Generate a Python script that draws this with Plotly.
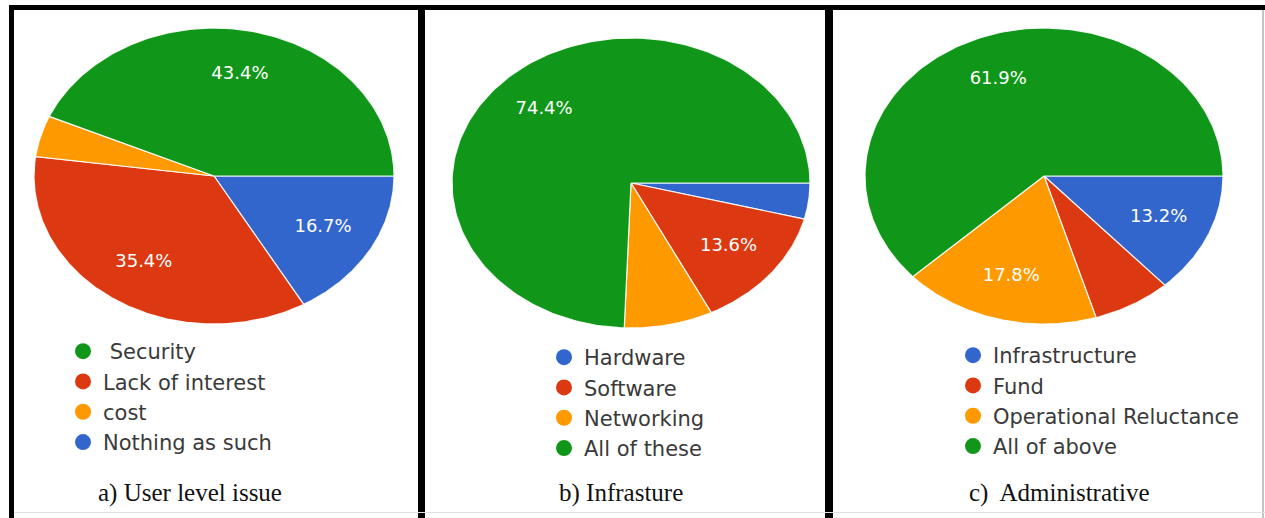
import numpy as np
import plotly.graph_objects as go

W, H = 1265, 518

# ---- data -------------------------------------------------------------
user_labels = [" Security", "Lack of interest", "cost", "Nothing as such"]
user_values = [43.4, 35.4, 4.5, 16.7]
user_colors = ["#109618", "#dc3912", "#ff9900", "#3366cc"]

infra_labels = ["Hardware", "Software", "Networking", "All of these"]
infra_values = [4.0, 13.6, 8.0, 74.4]
infra_colors = ["#3366cc", "#dc3912", "#ff9900", "#109618"]

admin_labels = ["Infrastructure", "Fund", "Operational Reluctance", "All of above"]
admin_values = [13.2, 7.1, 17.8, 61.9]
admin_colors = ["#3366cc", "#dc3912", "#ff9900", "#109618"]

captions = ["a) User level issue", "b) Infrasture", "c)  Administrative"]


def px_x(v):
    return v / W


def px_y(v):
    return 1 - v / H


# panel layout: ellipse box (pixels), slice sequence clockwise from
# 3 o'clock, legend anchor and caption position
panels = [
    dict(labels=user_labels, values=user_values, colors=user_colors,
         order=[3, 1, 2, 0],
         cx=214, cy=176, rx=180, ry=148,
         legend_x=63, legend_y=331, caption_x=190),
    dict(labels=infra_labels, values=infra_values, colors=infra_colors,
         order=[0, 1, 2, 3],
         cx=631, cy=183, rx=179, ry=145,
         legend_x=544, legend_y=337, caption_x=621),
    dict(labels=admin_labels, values=admin_values, colors=admin_colors,
         order=[0, 1, 2, 3],
         cx=1044, cy=176, rx=179, ry=148,
         legend_x=953, legend_y=335, caption_x=1059),
]

fig = go.Figure()
layout_axes = {}
legend_names = ["legend", "legend2", "legend3"]

for i, p in enumerate(panels):
    n = i + 1
    xa = "x" if n == 1 else f"x{n}"
    ya = "y" if n == 1 else f"y{n}"
    total = sum(p["values"])
    start = 0.0
    lab_x, lab_y, lab_t = [], [], []
    for k in p["order"]:
        val, col = p["values"][k], p["colors"][k]
        sweep = -360.0 * val / total
        ang = np.radians(np.linspace(start, start + sweep, 180))
        xs = np.concatenate([[0], np.cos(ang), [0]])
        ys = np.concatenate([[0], np.sin(ang), [0]])
        fig.add_trace(go.Scatter(
            x=xs, y=ys, mode="lines", fill="toself", fillcolor=col,
            line=dict(color="rgba(255,255,255,0.9)", width=1.2),
            xaxis=xa, yaxis=ya, showlegend=False, hoverinfo="skip"))
        if val >= 10:
            mid = np.radians(start + sweep / 2)
            lab_x.append(0.7 * np.cos(mid))
            lab_y.append(0.7 * np.sin(mid))
            lab_t.append(f"{val}%")
        start += sweep
    fig.add_trace(go.Scatter(
        x=lab_x, y=lab_y, text=lab_t, mode="text",
        textfont=dict(family="DejaVu Sans", size=18, color="white"),
        xaxis=xa, yaxis=ya, showlegend=False, hoverinfo="skip"))

    # legend entries (circle swatches)
    for lbl, col in zip(p["labels"], p["colors"]):
        fig.add_trace(go.Scatter(
            x=[None], y=[None], mode="markers", name=lbl,
            marker=dict(symbol="circle", size=16, color=col),
            xaxis=xa, yaxis=ya, legend=legend_names[i]))

    x0 = px_x(p["cx"] - p["rx"])
    x1 = px_x(p["cx"] + p["rx"])
    y0 = px_y(p["cy"] + p["ry"])
    y1 = px_y(p["cy"] - p["ry"])
    xk = "xaxis" if n == 1 else f"xaxis{n}"
    yk = "yaxis" if n == 1 else f"yaxis{n}"
    layout_axes[xk] = dict(domain=[x0, x1], range=[-1, 1], visible=False,
                           fixedrange=True, anchor=ya)
    layout_axes[yk] = dict(domain=[y0, y1], range=[-1, 1], visible=False,
                           fixedrange=True, anchor=xa)
    layout_axes[legend_names[i]] = dict(
        x=px_x(p["legend_x"]), y=px_y(p["legend_y"]),
        xanchor="left", yanchor="top", bgcolor="rgba(0,0,0,0)",
        font=dict(family="DejaVu Sans", size=21, color="#3a3a3a"),
        itemclick=False, itemdoubleclick=False)

annotations = []
for p, cap in zip(panels, captions):
    annotations.append(dict(
        x=px_x(p["caption_x"]), y=px_y(493), xref="paper", yref="paper",
        text=cap, showarrow=False, xanchor="center", yanchor="middle",
        font=dict(family="Liberation Serif, Times New Roman", size=25,
                  color="#111111")))

# frame: heavy top rule, left edge and the two panel dividers
shapes = [
    dict(type="rect", xref="paper", yref="paper",
         x0=px_x(9), x1=1, y0=px_y(10), y1=px_y(5),
         fillcolor="black", line=dict(width=0)),
    dict(type="rect", xref="paper", yref="paper",
         x0=px_x(9), x1=px_x(14), y0=0, y1=px_y(5),
         fillcolor="black", line=dict(width=0)),
    dict(type="rect", xref="paper", yref="paper",
         x0=px_x(418), x1=px_x(425), y0=0, y1=px_y(5),
         fillcolor="black", line=dict(width=0)),
    dict(type="rect", xref="paper", yref="paper",
         x0=px_x(825), x1=px_x(833), y0=0, y1=px_y(5),
         fillcolor="black", line=dict(width=0)),
    dict(type="line", xref="paper", yref="paper",
         x0=px_x(1263), x1=px_x(1263), y0=0, y1=px_y(10),
         line=dict(color="#b0b0b0", width=1.5)),
    dict(type="line", xref="paper", yref="paper",
         x0=px_x(14), x1=1, y0=px_y(512.5), y1=px_y(512.5),
         line=dict(color="#e2e2e2", width=1)),
]

fig.update_layout(
    width=W, height=H,
    margin=dict(l=0, r=0, t=0, b=0),
    paper_bgcolor="white", plot_bgcolor="rgba(0,0,0,0)",
    annotations=annotations, shapes=shapes,
    **layout_axes,
)

fig.write_html("out.html", config=dict(displayModeBar=False))
